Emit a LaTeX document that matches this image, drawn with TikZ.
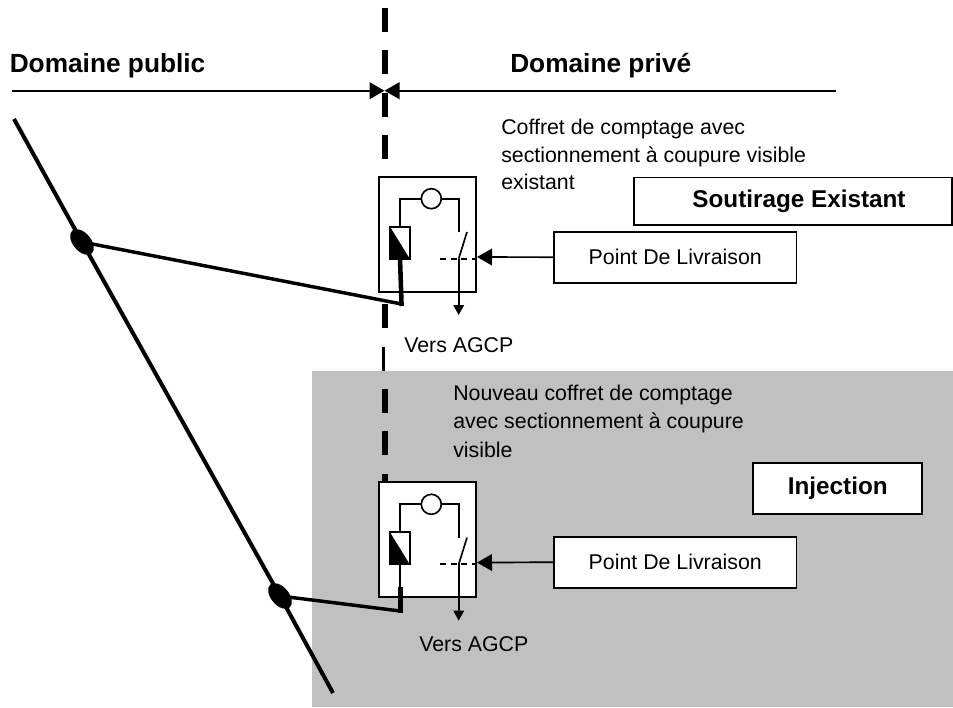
\documentclass[tikz,border=0pt]{standalone}
\usepackage{fontspec}
\setmainfont{Liberation Sans}
\usetikzlibrary{arrows.meta,shapes.geometric}
\definecolor{zonegray}{HTML}{C0C0C0}
\tikzset{
  x=0.75pt,y=-0.75pt,
  thinline/.style={draw=black,line width=1.25pt},
  mainline/.style={draw=black,line width=3pt},
  branchline/.style={draw=black,line width=2.6pt},
  rule/.style={draw=black,line width=1.5pt},
  limitdash/.style={draw=black,line width=4.5pt,dash pattern=on 18pt off 13.72pt},
  tip/.style={-{Triangle[length=11.25pt,width=12.5pt]}},
  smalltip/.style={-{Triangle[length=7.5pt,width=8pt]}},
  labelbox/.style={draw=black,fill=white,line width=1.25pt,inner sep=0pt,font=\fontsize{16}{20}\selectfont},
  titlebox/.style={draw=black,fill=white,line width=1.25pt,inner sep=0pt,font=\fontsize{18.2}{22}\selectfont\bfseries},
  heading/.style={inner sep=0pt,font=\fontsize{19.7}{24}\selectfont\bfseries},
  note/.style={inner sep=0pt,align=left,anchor=north west},
  junction/.style={ellipse,fill=black,inner sep=0pt,minimum width=22.5pt,minimum height=13.5pt,rotate=-50},
  coffret/.pic={
    \draw[thinline,fill=white] (0,0) rectangle (97,115);
    \draw[thinline] (21.6,50) -- (21.6,22) -- (42.6,22);
    \draw[thinline] (62.6,22) -- (80,22) -- (80,55.3);
    \draw[thinline] (52.6,22) circle[radius=10];
    \draw[thinline] (11.3,50) rectangle (31,82);
    \fill (11.3,50) -- (31,82) -- (11.3,82) -- cycle;
    \draw[thinline] (88.3,55.3) -- (80,82);
    \draw[thinline,dash pattern=on 4.5pt off 3.5pt] (61.3,82) -- (97,82);
    \draw[thinline] (21.6,82) -- (21.6,115);
    \draw[thinline,smalltip] (80,82) -- (80,138.3);
    \coordinate (tip) at (98.3,80.3);
  }
}
\begin{document}
\begin{tikzpicture}
\useasboundingbox (0,0) rectangle (953,707);
\fill[zonegray] (312,371) rectangle (953,707);

% limit between the two domains
\coordinate (lim-a) at (385,8);
\coordinate (lim-b) at (385,328);
\coordinate (lim-c) at (383.6,347);
\coordinate (lim-d) at (383.6,371);
\coordinate (lim-e) at (385,389);
\coordinate (lim-f) at (385,483);
\draw[limitdash] (lim-a) -- (lim-b);
\draw[draw=black,line width=2.6pt] (lim-c) -- (lim-d);
\draw[limitdash] (lim-e) -- (lim-f);

% domain rule
\coordinate (rule-l) at (12,90.7);
\coordinate (rule-m) at (384.5,90.7);
\coordinate (rule-r) at (836,90.7);
\draw[rule,tip] (rule-l) -- (rule-m);
\draw[rule,tip] (rule-r) -- (rule-m);
\node[heading,anchor=base west] (pub) at (9.5,72) {Domaine public};
\node[heading,anchor=base west] (priv) at (510,72) {Domaine privé};

% feeder
\coordinate (feed-a) at (14,119);
\coordinate (feed-b) at (333,693);
\node[junction] (n1) at (82,242) {};
\node[junction] (n2) at (280,596) {};
\draw[mainline] (feed-a) -- (n1.center) -- (n2.center) -- (feed-b);

% metering cabinets
\pic (c1) at (378.7,176.7) {coffret};
\pic (c2) at (378.7,482.3) {coffret};

% service connections
\coordinate (j1a) at (400,258);
\coordinate (j1b) at (401.6,306);
\coordinate (j1c) at (401.6,304);
\coordinate (j2a) at (400.3,587);
\coordinate (j2b) at (400.3,613);
\coordinate (j2c) at (400.3,611);
\draw[branchline] (n1.center) -- (j1c);
\draw[draw=black,line width=3.4pt] (j1a) -- (j1b);
\draw[branchline] (n2.center) -- (j2c);
\draw[draw=black,line width=3.4pt] (j2a) -- (j2b);

% delivery points
\node[labelbox,minimum width=182pt,minimum height=38.25pt] (pdl1) at (675.3,257.2) {Point De Livraison};
\node[labelbox,minimum width=182pt,minimum height=38.25pt] (pdl2) at (675.3,562.2) {Point De Livraison};
\draw[thinline,tip] (pdl1.west) -- (c1tip);
\draw[thinline,tip] (pdl2.west) -- (c2tip);

% titles
\node[titlebox,minimum width=238.5pt,minimum height=35.8pt] (sout) at (793,201.2) {};
\node[inner sep=0pt,font=\fontsize{18.2}{22}\selectfont\bfseries] (soutxt) at (799,201.2) {Soutirage Existant};
\node[titlebox,minimum width=126.75pt,minimum height=37.8pt] (inj) at (837.8,488.5) {Injection};

% notes
\node[note,font=\fontsize{16}{20.6}\selectfont] (n-old) at (501,119) {Coffret de comptage avec\\sectionnement à coupure visible\\existant};
\node[note,font=\fontsize{16}{21.2}\selectfont] (n-new) at (453,385) {Nouveau coffret de comptage\\avec sectionnement à coupure\\visible};
\node[inner sep=0pt,anchor=west,font=\fontsize{16}{20}\selectfont] (v1) at (404,345) {Vers AGCP};
\node[inner sep=0pt,anchor=west,font=\fontsize{16}{20}\selectfont] (v2) at (419,644) {Vers AGCP};
\end{tikzpicture}
\end{document}
